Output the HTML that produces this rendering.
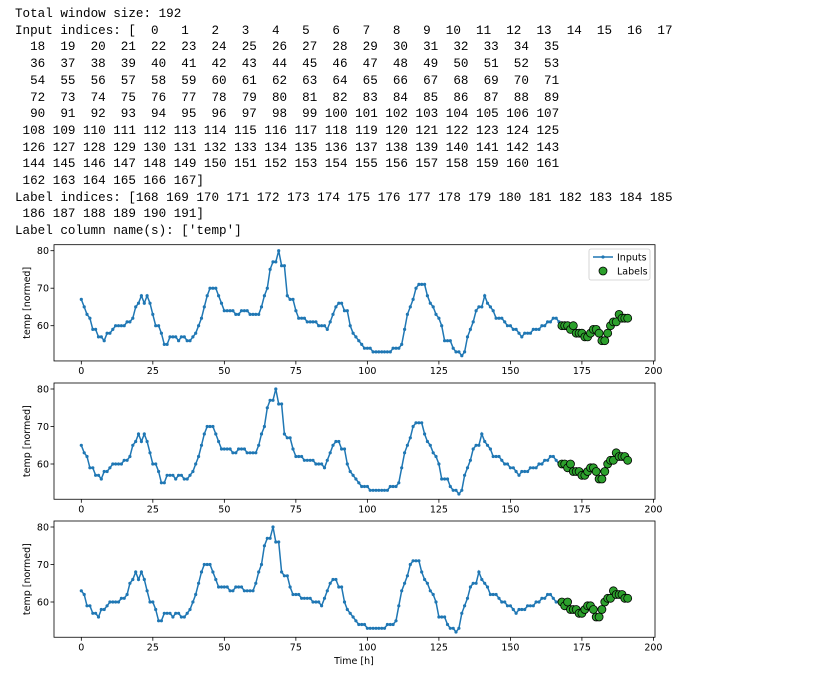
<!DOCTYPE html>
<html><head><meta charset="utf-8"><style>
body{margin:0;background:#fff;width:815px;height:682px;overflow:hidden;position:relative}
pre{position:absolute;left:15px;top:6px;margin:0;font-family:"Liberation Mono",monospace;font-size:12.6px;line-height:16.7px;color:#000}
svg{position:absolute;left:0;top:0}
</style></head><body>
<pre>Total window size: 192
Input indices: [  0   1   2   3   4   5   6   7   8   9  10  11  12  13  14  15  16  17
  18  19  20  21  22  23  24  25  26  27  28  29  30  31  32  33  34  35
  36  37  38  39  40  41  42  43  44  45  46  47  48  49  50  51  52  53
  54  55  56  57  58  59  60  61  62  63  64  65  66  67  68  69  70  71
  72  73  74  75  76  77  78  79  80  81  82  83  84  85  86  87  88  89
  90  91  92  93  94  95  96  97  98  99 100 101 102 103 104 105 106 107
 108 109 110 111 112 113 114 115 116 117 118 119 120 121 122 123 124 125
 126 127 128 129 130 131 132 133 134 135 136 137 138 139 140 141 142 143
 144 145 146 147 148 149 150 151 152 153 154 155 156 157 158 159 160 161
 162 163 164 165 166 167]
Label indices: [168 169 170 171 172 173 174 175 176 177 178 179 180 181 182 183 184 185
 186 187 188 189 190 191]
Label column name(s): ['temp']</pre>
<svg id="s" width="815" height="682" xmlns="http://www.w3.org/2000/svg" font-family="DejaVu Sans, Liberation Sans, sans-serif"></svg>
<script>
(function(){
var v=[67,65,63,62,59,59,57,57,56,58,58,59,60,60,60,60,61,61,62,65,66,68,66,68,66,63,60,60,58,55,55,57,57,57,56,57,57,56,56,57,58,60,62,65,68,70,70,70,68,66,64,64,64,64,63,63,64,64,64,63,63,63,63,65,68,70,75,77,77,80,76,76,68,67,67,64,62,62,62,61,61,61,61,60,60,60,59,61,63,65,66,66,64,64,60,58,57,56,55,54,54,54,53,53,53,53,53,53,53,54,54,54,55,59,63,65,67,70,71,71,71,68,66,65,63,62,60,56,56,56,54,53,53,52,53,57,59,61,64,65,65,68,66,65,64,62,62,62,61,60,60,59,59,58,57,58,58,58,59,59,59,60,60,61,61,62,62,61,
60,60,60,59,60,58,58,58,57,57,58,59,59,58,56,56,58,60,61,61,63,62,62,62,61,61];
var s='',L=54,R=655,ppu=(R-L)/210.1,x0=L+9.55*ppu;
function X(i){return x0+i*ppu}
var tops=[250.7,389,527];
for(var p=0;p<3;p++){
 var y80=tops[p],k=3.75;
 var Y=function(val){return y80+(80-val)*k};
 var tp=Y(81.6),bt=Y(50.6);
 s+='<rect x="'+L+'" y="'+tp+'" width="'+(R-L)+'" height="'+(bt-tp)+'" fill="none" stroke="#000" stroke-width="0.8"/>';
 for(var t=0;t<=200;t+=25){var xx=X(t);s+='<line x1="'+xx+'" x2="'+xx+'" y1="'+bt+'" y2="'+(bt+3.5)+'" stroke="#000" stroke-width="0.8"/><text x="'+xx+'" y="'+(bt+13)+'" font-size="9.5" text-anchor="middle">'+t+'</text>';}
 [60,70,80].forEach(function(t){var yy=Y(t);s+='<line x1="'+(L-3.5)+'" x2="'+L+'" y1="'+yy+'" y2="'+yy+'" stroke="#000" stroke-width="0.8"/><text x="'+(L-5)+'" y="'+(yy+3.5)+'" font-size="9.5" text-anchor="end">'+t+'</text>';});
 var cy=(tp+bt)/2;
 s+='<text transform="translate(30,'+cy+') rotate(-90)" font-size="9.5" text-anchor="middle">temp [normed]</text>';
 var pts=[];for(var i=0;i<168;i++)pts.push(X(i).toFixed(1)+','+Y(v[i+p]).toFixed(1));
 s+='<polyline points="'+pts.join(' ')+'" fill="none" stroke="#1f77b4" stroke-width="1.5"/>';
 for(var i=0;i<168;i++)s+='<circle cx="'+X(i).toFixed(1)+'" cy="'+Y(v[i+p]).toFixed(1)+'" r="1.6" fill="#1f77b4"/>';
 for(var i=168;i<192;i++)s+='<circle cx="'+X(i).toFixed(1)+'" cy="'+Y(v[i+p]).toFixed(1)+'" r="4" fill="#2ca02c" stroke="#000" stroke-width="0.8"/>';
 if(p==0){
  s+='<rect x="589" y="249" width="61" height="31" rx="2" fill="#fff" fill-opacity="0.8" stroke="#ccc" stroke-width="0.8"/>';
  s+='<line x1="593" x2="613" y1="257" y2="257" stroke="#1f77b4" stroke-width="1.5"/><circle cx="603" cy="257" r="1.6" fill="#1f77b4"/>';
  s+='<text x="617" y="260.5" font-size="9.5">Inputs</text>';
  s+='<circle cx="603" cy="271" r="4" fill="#2ca02c" stroke="#000" stroke-width="0.8"/><text x="617" y="274.5" font-size="9.5">Labels</text>';
 }
}
s+='<text x="354" y="664" font-size="9.5" text-anchor="middle">Time [h]</text>';
document.getElementById('s').innerHTML=s;
})();
</script>
</body></html>
